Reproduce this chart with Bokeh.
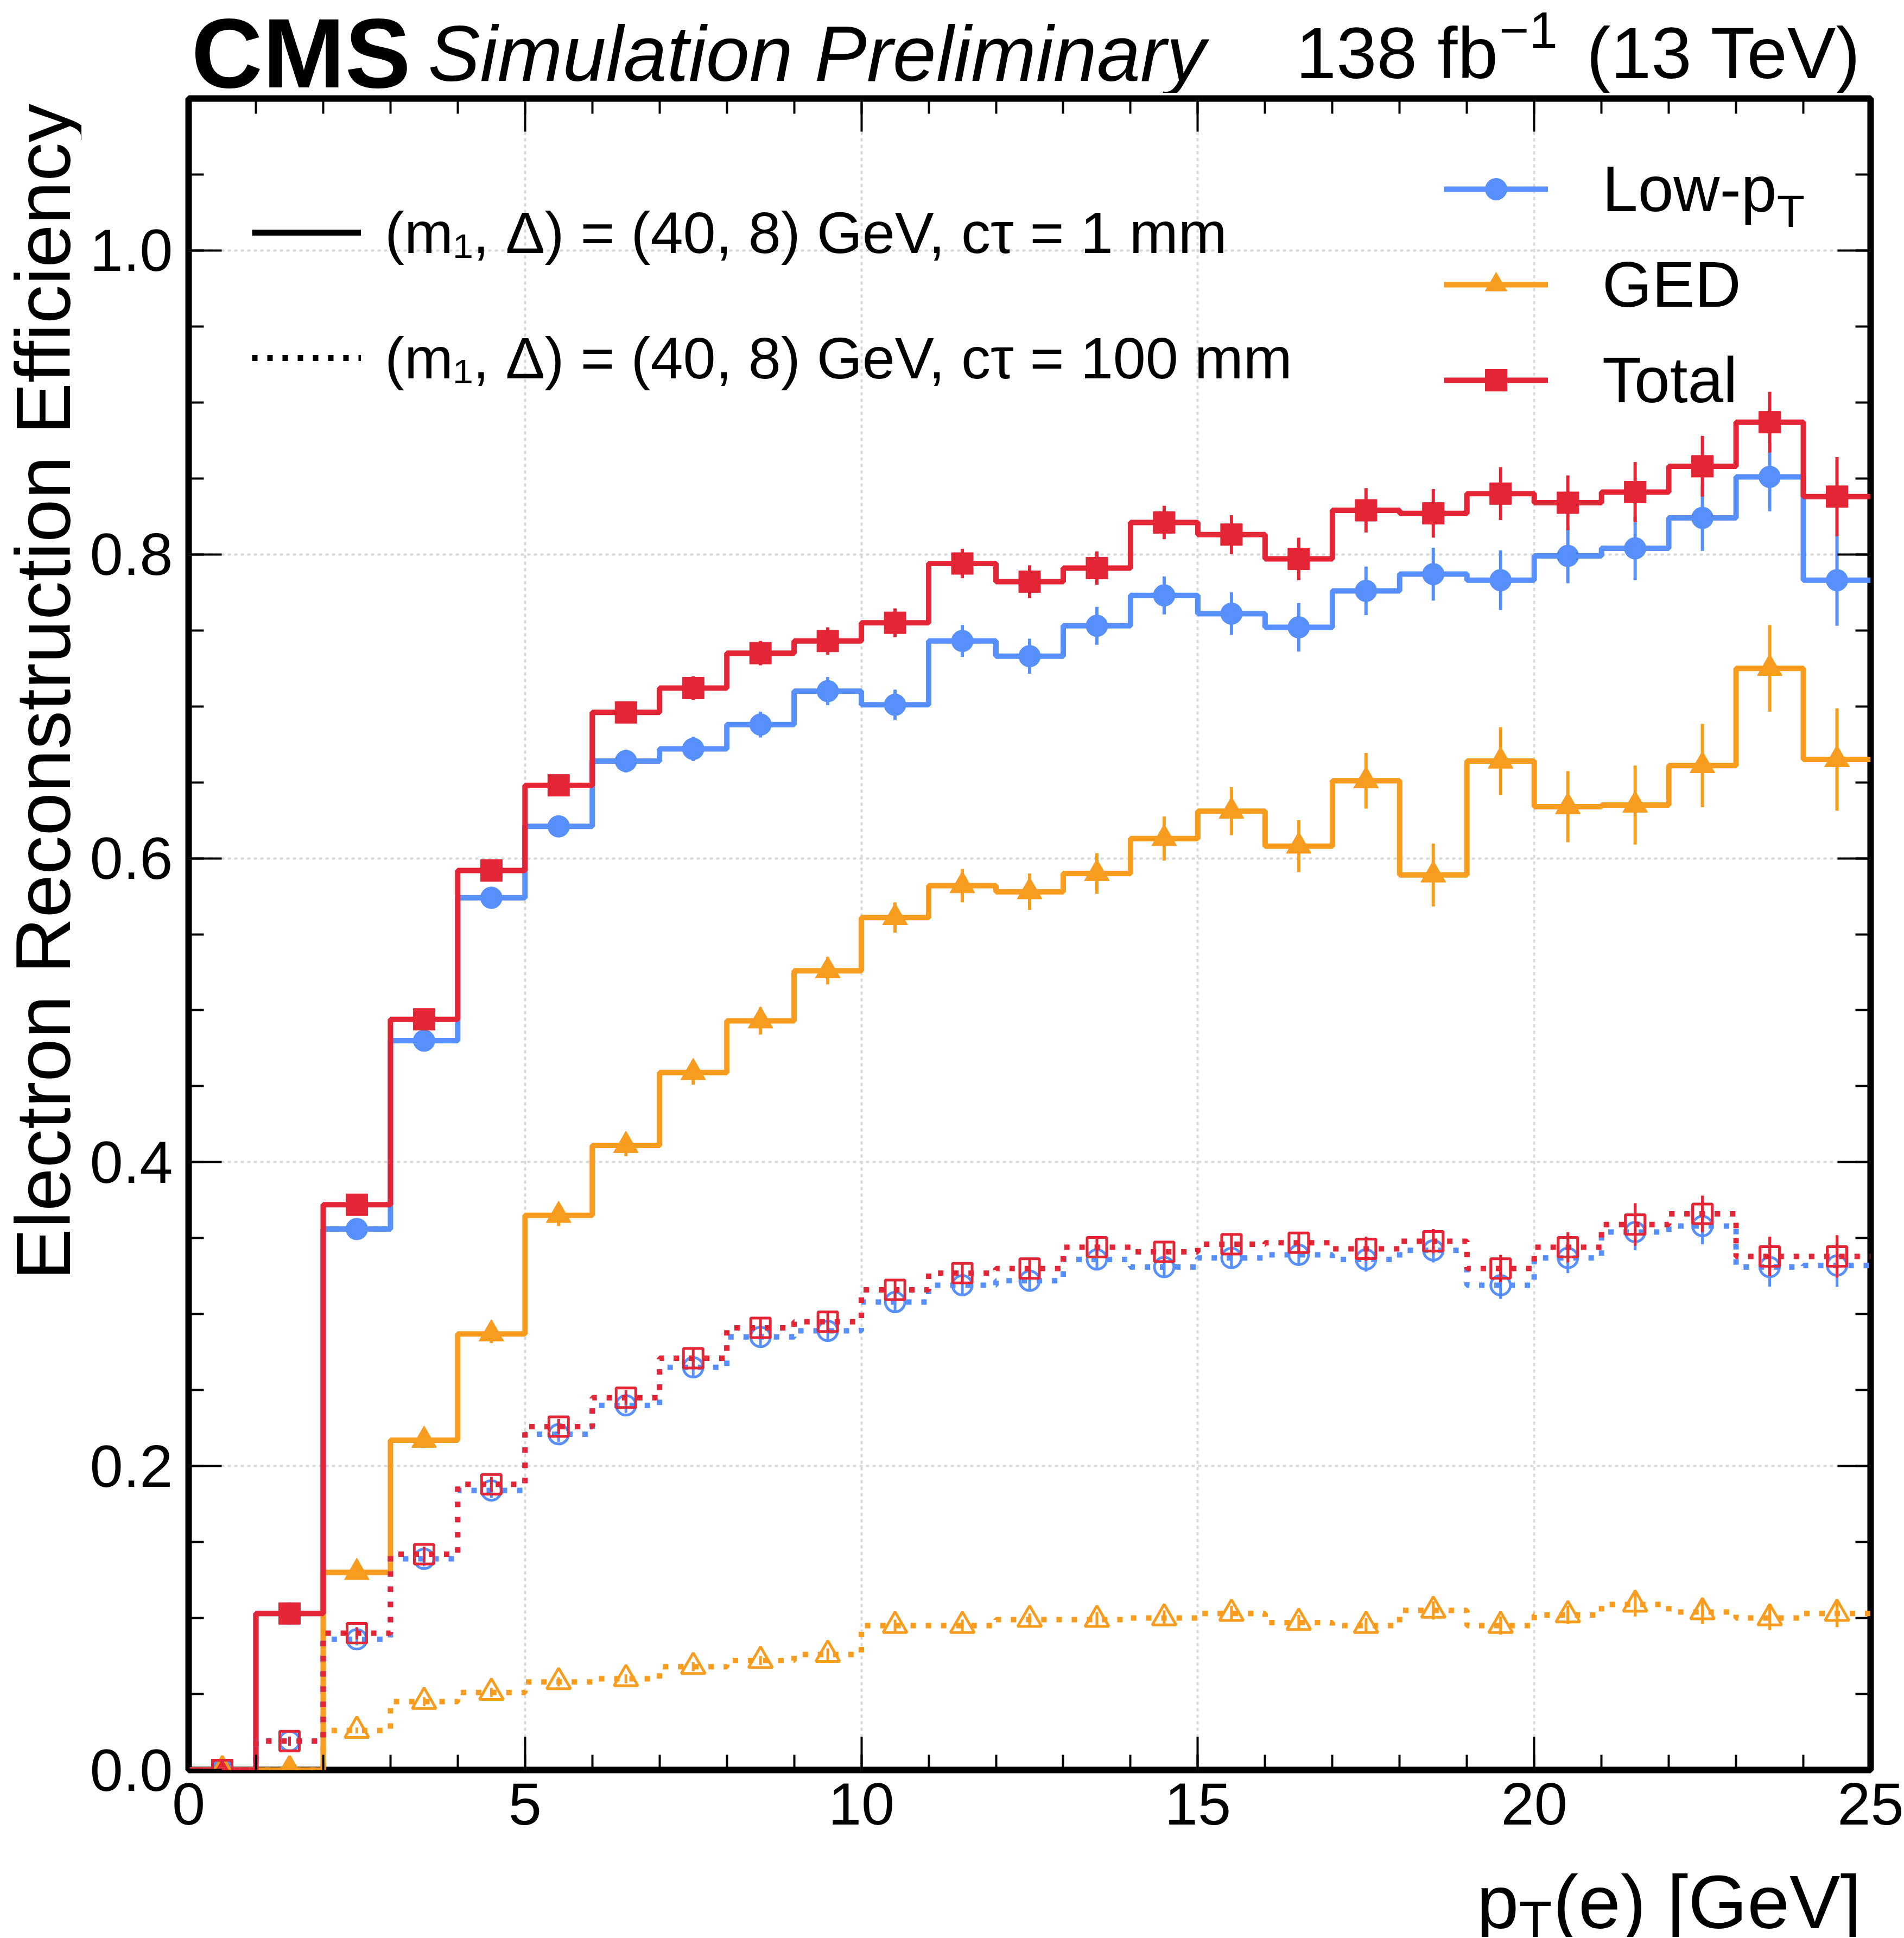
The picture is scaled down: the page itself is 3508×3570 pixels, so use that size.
import math
import numpy as np
from bokeh.plotting import figure
from bokeh.layouts import column, row
from bokeh.models import (Range1d, SingleIntervalTicker, LinearAxis, PrintfTickFormatter,
                          CustomJSTickFormatter, Legend, LegendItem, Label, ColumnDataSource)
from bokeh.embed import file_html
from bokeh.resources import INLINE

# ---------------- data ----------------
bin_edges = [0, 1, 2, 3, 4, 5, 6, 7, 8, 9, 10, 11, 12, 13, 14, 15, 16, 17, 18, 19, 20, 21, 22, 23, 24, 25]

# c tau = 1 mm (solid)
lowpt_1mm = [0.0, 0.103, 0.356, 0.480, 0.574, 0.621, 0.664, 0.672, 0.688, 0.710, 0.701, 0.743, 0.733,
             0.753, 0.773, 0.761, 0.752, 0.776, 0.787, 0.783, 0.799, 0.804, 0.824, 0.851, 0.783]
lowpt_1mm_err = [0.0, 0.004, 0.005, 0.005, 0.006, 0.006, 0.0075, 0.008, 0.0085, 0.0093, 0.010, 0.0105, 0.0115,
                 0.0125, 0.0125, 0.014, 0.016, 0.016, 0.0174, 0.0197, 0.018, 0.021, 0.0217, 0.0227, 0.030]
ged_1mm = [0.0, 0.0, 0.130, 0.217, 0.287, 0.365, 0.411, 0.459, 0.493, 0.526, 0.561, 0.582, 0.578,
           0.590, 0.613, 0.631, 0.608, 0.651, 0.589, 0.664, 0.634, 0.635, 0.661, 0.725, 0.665]
ged_1mm_err = [0.0, 0.0, 0.004, 0.005, 0.006, 0.007, 0.007, 0.008, 0.009, 0.009, 0.010, 0.011, 0.012,
               0.0134, 0.0145, 0.0158, 0.0171, 0.0183, 0.0207, 0.0223, 0.0234, 0.026, 0.0274, 0.0285, 0.0337]
total_1mm = [0.0, 0.103, 0.372, 0.494, 0.592, 0.648, 0.696, 0.712, 0.735, 0.743, 0.755, 0.794, 0.782,
             0.791, 0.821, 0.813, 0.797, 0.829, 0.827, 0.840, 0.834, 0.841, 0.858, 0.887, 0.838]
total_1mm_err = [0.0, 0.004, 0.005, 0.005, 0.006, 0.006, 0.007, 0.0078, 0.008, 0.009, 0.0095, 0.0097, 0.0108,
                 0.011, 0.011, 0.0128, 0.014, 0.0146, 0.016, 0.0174, 0.018, 0.0198, 0.020, 0.020, 0.026]

# c tau = 100 mm (dotted)
lowpt_100mm = [0.0, 0.019, 0.086, 0.139, 0.184, 0.221, 0.240, 0.265, 0.285, 0.289, 0.308, 0.319, 0.322,
               0.336, 0.331, 0.337, 0.339, 0.336, 0.342, 0.319, 0.337, 0.354, 0.358, 0.331, 0.332]
lowpt_100mm_err = [0.0, 0.003, 0.004, 0.005, 0.005, 0.005, 0.005, 0.006, 0.006, 0.006, 0.006, 0.006, 0.007,
                   0.007, 0.007, 0.007, 0.007, 0.008, 0.008, 0.009, 0.010, 0.012, 0.012, 0.013, 0.014]
ged_100mm = [0.0, 0.0, 0.026, 0.045, 0.051, 0.058, 0.060, 0.068, 0.072, 0.076, 0.095, 0.095, 0.099,
             0.099, 0.100, 0.103, 0.097, 0.095, 0.105, 0.095, 0.102, 0.109, 0.104, 0.100, 0.103]
ged_100mm_err = [0.0, 0.0, 0.002, 0.003, 0.003, 0.003, 0.003, 0.003, 0.003, 0.004, 0.004, 0.004, 0.004,
                 0.005, 0.005, 0.005, 0.005, 0.005, 0.006, 0.006, 0.006, 0.008, 0.008, 0.008, 0.009]
total_100mm = [0.0, 0.019, 0.090, 0.142, 0.188, 0.226, 0.245, 0.271, 0.291, 0.295, 0.316, 0.327, 0.330,
               0.344, 0.341, 0.346, 0.347, 0.343, 0.348, 0.330, 0.344, 0.359, 0.366, 0.338, 0.338]
total_100mm_err = [0.0, 0.003, 0.004, 0.005, 0.005, 0.005, 0.005, 0.006, 0.006, 0.006, 0.006, 0.006, 0.006,
                   0.007, 0.007, 0.007, 0.007, 0.008, 0.008, 0.009, 0.010, 0.014, 0.012, 0.013, 0.014]

series_names = ["Low-p", "GED", "Total"]
colors = ["#5790fc", "#f89c20", "#e42536"]
markers = ["circle", "triangle", "square"]
x_tick_interval = 5
y_tick_interval = 0.2
legend_ctau = ["(m\u2081, \u0394) = (40, 8) GeV, c\u03c4 = 1 mm",
               "(m\u2081, \u0394) = (40, 8) GeV, c\u03c4 = 100 mm"]
header_cms = "CMS"
header_extra = "Simulation Preliminary"
header_lumi = ["138 fb", "\u22121", "(13 TeV)"]
y_title = "Electron Reconstruction Efficiency"
x_title = ["p", "T", "(e) [GeV]"]

# ---------------- layout constants ----------------
FONT = "Liberation Sans"
W = 3508                    # total canvas width
HEAD_H = 171                # header strip height
YW = 150                    # y-title strip width
FW, FH = 3099, 3079         # plot frame
ML, MT, MB = 197, 10, 165
MR = W - YW - ML - FW
MAIN_W = ML + FW + MR
MAIN_H = MT + FH + MB
FOOT_H = 143
BASE_SHIFT = 0.24           # em offset of rendered alphabetic baseline


def blank_fig(w, h):
    f = figure(width=w, height=h, output_backend="svg", toolbar_location=None,
               x_range=Range1d(0, w), y_range=Range1d(0, h),
               x_axis_type=None, y_axis_type=None, min_border=0,
               outline_line_color=None, background_fill_color="white", border_fill_color="white")
    f.title.visible = False
    return f


def text(x, y, s, size, style="normal", align="left", **kw):
    return Label(x=x, y=y, text=s, text_font=FONT, text_font_size=f"{size}px", text_font_style=style,
                 text_color="black", text_baseline="alphabetic", text_align=align,
                 text_line_height=1.0, **kw)


def htext(fig_h, x, base_from_top, s, size, **kw):
    # place a horizontal text so that its baseline sits base_from_top px below the strip top
    return text(x, fig_h - base_from_top + BASE_SHIFT * size, s, size, **kw)


# ---------------- main plot ----------------
p = figure(width=MAIN_W, height=MAIN_H, output_backend="svg", toolbar_location=None,
           x_range=Range1d(0, 25), y_range=Range1d(0, 1.1),
           min_border_left=ML, min_border_right=MR, min_border_top=MT, min_border_bottom=MB,
           background_fill_color="white", border_fill_color="white")
p.title.visible = False

xt = SingleIntervalTicker(interval=x_tick_interval, num_minor_ticks=5)
yt = SingleIntervalTicker(interval=y_tick_interval, num_minor_ticks=4)
bottom_ax = p.below[0]
left_ax = p.left[0]
bottom_ax.ticker = xt
left_ax.ticker = yt
bottom_ax.formatter = PrintfTickFormatter(format="%d")
left_ax.formatter = PrintfTickFormatter(format="%.1f")

top_ax = LinearAxis(ticker=xt, formatter=CustomJSTickFormatter(code="return ''"))
right_ax = LinearAxis(ticker=yt, formatter=CustomJSTickFormatter(code="return ''"))
p.add_layout(top_ax, "above")
p.add_layout(right_ax, "right")

for ax in [bottom_ax, left_ax, top_ax, right_ax]:
    ax.axis_line_color = None
    ax.major_tick_in = 61
    ax.major_tick_out = 0
    ax.minor_tick_in = 28
    ax.minor_tick_out = 0
    ax.major_tick_line_width = 4
    ax.minor_tick_line_width = 4
    ax.major_tick_line_color = "black"
    ax.minor_tick_line_color = "black"
    ax.major_label_text_font = FONT
    ax.major_label_text_color = "black"
bottom_ax.major_label_text_font_size = "110px"
left_ax.major_label_text_font_size = "110px"
bottom_ax.major_label_standoff = 24
left_ax.major_label_standoff = 29
for ax in [top_ax, right_ax]:
    ax.major_label_text_font_size = "0px"
    ax.major_label_standoff = 0

p.outline_line_color = "black"
p.outline_line_width = 12
p.outline_line_alpha = 1.0

for g in [p.xgrid[0], p.ygrid[0]]:
    g.grid_line_color = "#d9d9d9"
    g.grid_line_width = 4
    g.grid_line_dash = "6 6"

centers = [e + 0.5 for e in bin_edges[:-1]]
DOT = "10 18"


def draw(vals, errs, color, marker, filled, dash, msize):
    ys = list(vals) + [vals[-1]]
    st = p.step(x=bin_edges, y=ys, mode="after", line_color=color, line_width=10, line_dash=dash)
    src = ColumnDataSource(dict(x=centers, y=vals,
                                lo=[v - e for v, e in zip(vals, errs)],
                                hi=[v + e for v, e in zip(vals, errs)]))
    p.segment(x0="x", y0="lo", x1="x", y1="hi", source=src, line_color=color,
              line_width=6 if filled else 5)
    sc = p.scatter(x="x", y="y", source=src, marker=marker, size=msize,
                   fill_color=color if filled else None, line_color=color,
                   line_width=1 if filled else 5)
    return st, sc


solid = [(lowpt_1mm, lowpt_1mm_err), (ged_1mm, ged_1mm_err), (total_1mm, total_1mm_err)]
dotted = [(lowpt_100mm, lowpt_100mm_err), (ged_100mm, ged_100mm_err), (total_100mm, total_100mm_err)]
solid_sizes = [40, 46, 40]
open_sizes = [36, 44, 36]

legend_renderers = []
for (v, e), c, m, s in zip(solid, colors, markers, solid_sizes):
    legend_renderers.append(draw(v, e, c, m, True, "solid", s))
for (v, e), c, m, s in zip(dotted, colors, markers, open_sizes):
    draw(v, e, c, m, False, DOT, s)

# ---------------- legends (frame coordinates, y up from frame bottom) ----------------
R_X, R_GW, R_SO, R_FONT, R_LH = 2313, 192, 100, 118, 140
r_rows = [2912, 2736, 2560]
leg_r = Legend(items=[LegendItem(label=n, renderers=list(r)) for n, r in zip(series_names, legend_renderers)],
               location=(R_X, r_rows[-1] - R_LH // 2), padding=0, spacing=int(r_rows[0] - r_rows[1] - R_LH),
               margin=0, glyph_width=R_GW, glyph_height=100, label_height=R_LH, label_standoff=R_SO,
               label_text_font=FONT, label_text_font_size=f"{R_FONT}px", label_text_color="black",
               border_line_color=None, background_fill_alpha=0)
p.add_layout(leg_r)

# subscript T of "Low-pT"
T_SIZE = 84
p.add_layout(text(R_X + R_GW + R_SO + 2.723 * R_FONT, r_rows[0] - 0.36 * R_FONT - 18 + BASE_SHIFT * T_SIZE,
                  "T", T_SIZE, x_units="screen", y_units="screen"))

nan2 = np.array([np.nan, np.nan])
proxy_solid = p.line(x=nan2, y=nan2, line_color="black", line_width=11)
proxy_dot = p.line(x=nan2, y=nan2, line_color="black", line_width=11, line_dash=DOT)
L_X, L_GW, L_SO, L_LH = 117, 201, 44, 130
l_rows = [2832, 2601]
leg_l = Legend(items=[LegendItem(label=legend_ctau[0], renderers=[proxy_solid]),
                      LegendItem(label=legend_ctau[1], renderers=[proxy_dot])],
               location=(L_X, l_rows[-1] - L_LH // 2), padding=0, spacing=int(l_rows[0] - l_rows[1] - L_LH),
               margin=0, glyph_width=L_GW, glyph_height=100, label_height=L_LH, label_standoff=L_SO,
               label_text_font=FONT, label_text_font_size="108px", label_text_color="black",
               border_line_color=None, background_fill_alpha=0)
p.add_layout(leg_l)

# ---------------- header strip ----------------
head = blank_fig(W, HEAD_H)
head.add_layout(htext(HEAD_H, 352, 141, header_cms, 182, style="bold"))
head.add_layout(htext(HEAD_H, 788, 134, header_extra, 144, style="italic"))
head.add_layout(htext(HEAD_H, 2387, 129, header_lumi[0], 134))
head.add_layout(htext(HEAD_H, 2762, 78, header_lumi[1], 94))
head.add_layout(htext(HEAD_H, 3429, 129, header_lumi[2], 134, align="right"))

# ---------------- y title strip ----------------
Y_SIZE = 143
yfig = blank_fig(YW, MAIN_H)
yfig.add_layout(text(113 - BASE_SHIFT * Y_SIZE, MAIN_H - MT, y_title, Y_SIZE, align="right",
                     angle=math.pi / 2, angle_units="rad"))

# ---------------- x title strip ----------------
foot = blank_fig(W, FOOT_H)
XF, XSUB = 140, 100
FOOT_TOP = HEAD_H + MAIN_H
xl_x = 2720
foot.add_layout(htext(FOOT_H, xl_x, 3537 - FOOT_TOP, x_title[0], XF))
foot.add_layout(htext(FOOT_H, xl_x + 0.556 * XF, 3560 - FOOT_TOP, x_title[1], XSUB))
foot.add_layout(htext(FOOT_H, xl_x + 0.556 * XF + 0.611 * XSUB + 2, 3537 - FOOT_TOP, x_title[2], XF))

layout = column(head, row(yfig, p, spacing=0), foot, spacing=0)
open("out.html", "w").write(file_html(layout, INLINE, "plot"))
